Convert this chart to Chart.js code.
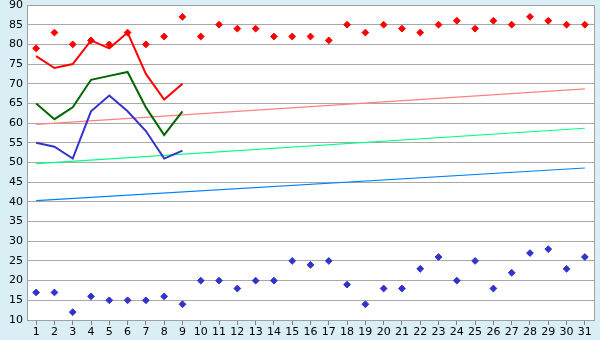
<!DOCTYPE html>
<html>
<head>
<meta charset="utf-8">
<script src="https://cdn.jsdelivr.net/npm/chart.js@4/dist/chart.umd.min.js"></script>
<style>
  html, body { margin: 0; padding: 0; background: #daeef5; }
  #wrap { width: 600px; height: 340px; }
</style>
</head>
<body>
<div id="wrap"><canvas id="chart" width="600" height="340"></canvas></div>
<script>
// Jours du mois (axe X)
const days = Array.from({ length: 31 }, (_, i) => String(i + 1));

// Points hauts (losanges rouges) et bas (losanges bleus)
const highPoints = [79, 83, 80, 81, 80, 83, 80, 82, 87, 82, 85, 84, 84, 82, 82, 82, 81, 85, 83, 85, 84, 83, 85, 86, 84, 86, 85, 87, 86, 85, 85];
const lowPoints = [17, 17, 12, 16, 15, 15, 15, 16, 14, 20, 20, 18, 20, 20, 25, 24, 25, 19, 14, 18, 18, 23, 26, 20, 25, 18, 22, 27, 28, 23, 26];

// Courbes des 9 premiers jours
const redLine = [77, 74, 75, 81, 79, 83, 72.5, 66, 70];
const greenLine = [65, 61, 64, 71, 72, 73, 64, 57, 63];
const blueLine = [55, 54, 51, 63, 67, 63, 58, 51, 53];

// Droites de tendance : valeur au jour 1 et au jour 31
const trendPink = [59.7, 68.7];
const trendGreen = [49.7, 58.7];
const trendBlue = [40.3, 48.6];

const yTicks = { min: 10, max: 90, step: 5 };

function trend(values, color) {
    return {
        type: 'line',
        data: [{ x: days[0], y: values[0] }, { x: days[days.length - 1], y: values[1] }],
        borderColor: color,
        borderWidth: 1.2,
        pointRadius: 0,
        fill: false,
        order: 10
    };
}

function curve(values, color) {
    return {
        type: 'line',
        data: values,
        borderColor: color,
        borderWidth: 2,
        pointRadius: 0,
        tension: 0,
        fill: false,
        order: 2
    };
}

function markers(values, color) {
    return {
        type: 'line',
        data: values,
        showLine: false,
        pointStyle: 'rectRot',
        pointRadius: 3.4,
        pointBackgroundColor: color,
        pointBorderColor: color,
        pointBorderWidth: 1,
        order: 1
    };
}

// Fond bleu clair, zone de tracé blanche et bordure grise
const frame = {
    id: 'frame',
    beforeDraw(chart) {
        const { ctx, chartArea: a } = chart;
        ctx.save();
        ctx.fillStyle = '#daeef5';
        ctx.fillRect(0, 0, chart.width, chart.height);
        ctx.fillStyle = '#ffffff';
        ctx.fillRect(a.left, a.top, a.right - a.left, a.bottom - a.top);
        ctx.restore();
    },
    afterDraw(chart) {
        const { ctx, chartArea: a } = chart;
        ctx.save();
        ctx.strokeStyle = '#a0a0a0';
        ctx.lineWidth = 1;
        ctx.strokeRect(Math.round(a.left) + 0.5, Math.round(a.top) + 0.5, Math.round(a.right - a.left), Math.round(a.bottom - a.top));
        ctx.restore();
    }
};

const ctx = document.getElementById('chart').getContext('2d');
new Chart(ctx, {
    data: {
        labels: days,
        datasets: [
            trend(trendPink, '#ff8080'),
            trend(trendGreen, '#00ff80'),
            trend(trendBlue, '#0080ff'),
            curve(redLine, '#ff0000'),
            curve(greenLine, '#006600'),
            curve(blueLine, '#3333cc'),
            markers(highPoints, '#ff0000'),
            markers(lowPoints, '#3333cc')
        ]
    },
    options: {
        responsive: false,
        animation: false,
        layout: { padding: { top: 5, right: 6, left: 0, bottom: 0 } },
        plugins: {
            legend: { display: false },
            tooltip: { enabled: false }
        },
        scales: {
            x: {
                type: 'category',
                offset: true,
                grid: {
                    offset: false,
                    drawOnChartArea: false,
                    tickLength: 5,
                    tickColor: '#808080',
                    color: '#a0a0a0'
                },
                border: { color: '#a0a0a0' },
                ticks: {
                    color: '#000',
                    font: { family: 'DejaVu Sans', size: 11 },
                    padding: 1,
                    maxRotation: 0,
                    autoSkip: false
                },
                afterFit(axis) { axis.height = 20; }
            },
            y: {
                min: yTicks.min,
                max: yTicks.max,
                grid: { color: '#a8a8a8', tickLength: 0 },
                border: { color: '#a0a0a0' },
                ticks: {
                    stepSize: yTicks.step,
                    color: '#000',
                    font: { family: 'DejaVu Sans', size: 11 },
                    padding: 4
                },
                afterFit(axis) {
                    axis.width = 27;
                    axis.paddingTop = 0;
                    axis.paddingBottom = 0;
                }
            }
        }
    },
    plugins: [frame]
});
</script>
</body>
</html>
